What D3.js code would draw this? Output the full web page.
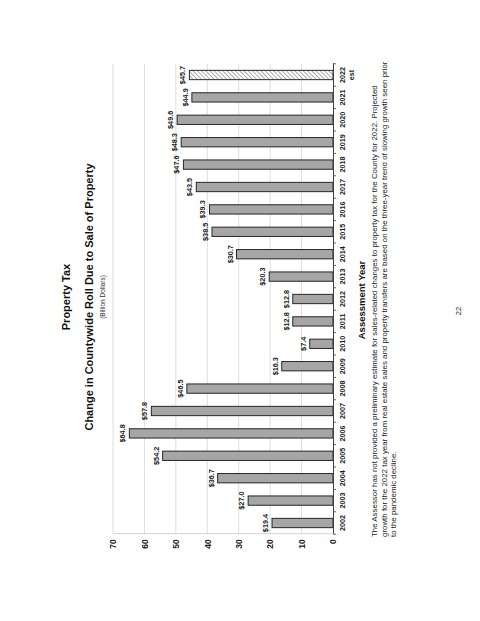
<!DOCTYPE html>
<html>
<head>
<meta charset="utf-8">
<script src="https://cdn.jsdelivr.net/npm/d3@7"></script>
<style>
  html, body { margin: 0; padding: 0; background: #fff; }
  svg { display: block; font-family: "Liberation Sans", Arial, sans-serif; }
</style>
</head>
<body>
<svg width="480" height="621"></svg>
<script>
// data
const years = ["2002", "2003", "2004", "2005", "2006", "2007", "2008", "2009", "2010", "2011",
  "2012", "2013", "2014", "2015", "2016", "2017", "2018", "2019", "2020", "2021", "2022"];
const rollChange = [19.4, 27.0, 36.7, 54.2, 64.8, 57.8, 46.5, 16.3, 7.4, 12.8,
  12.8, 20.3, 30.7, 38.5, 39.3, 43.5, 47.6, 48.3, 49.6, 44.9, 45.7];
const estYears = ["2022"];
const valueTicks = [0, 10, 20, 30, 40, 50, 60, 70];

const titleLines = ["Property Tax", "Change in Countywide Roll Due to Sale of Property"];
const subtitle = "(Billion Dollars)";
const xTitle = "Assessment Year";
const footnote = [
  "The Assessor has not provided a preliminary estimate for sales-related changes to property tax for the County for 2022. Projected",
  "growth for the 2022 tax year from real estate sales and property transfers are based on the three-year trend of slowing growth seen prior",
  "to the pandemic decline."
];
const pageNo = "22";

const svg = d3.select("svg");

// 페이지 전체가 세로로 돌려져 있음 → 가로 페이지를 그린 뒤 -90도 회전
const W = 621;
const page = svg.append("g").attr("transform", `translate(0,${W}) rotate(-90)`);

const defs = svg.append("defs");
const hatch = defs.append("pattern")
  .attr("id", "hatch")
  .attr("patternUnits", "userSpaceOnUse")
  .attr("width", 3).attr("height", 3)
  .attr("patternTransform", "rotate(45)");
hatch.append("rect").attr("width", 3).attr("height", 3).attr("fill", "#fff");
hatch.append("line")
  .attr("x1", 0).attr("y1", 0).attr("x2", 0).attr("y2", 3)
  .attr("stroke", "#555").attr("stroke-width", 1);

// scales
const x = d3.scaleBand()
  .domain(years)
  .range([86.8, 557.2])
  .paddingInner(0.585)
  .paddingOuter(0.2925);

const y = d3.scaleLinear()
  .domain([0, 70])
  .range([333, 113]);

// gridlines
page.append("g")
  .selectAll("line")
  .data(valueTicks.filter(d => d > 0))
  .join("line")
  .attr("x1", x.range()[0]).attr("x2", x.range()[1])
  .attr("y1", d => y(d)).attr("y2", d => y(d))
  .attr("stroke", "#d6d6d6").attr("stroke-width", 0.8);

// value axis
const yAxis = page.append("g")
  .attr("transform", `translate(${x.range()[0]},0)`)
  .call(d3.axisLeft(y).tickValues(valueTicks).tickSize(0).tickPadding(5));
yAxis.select(".domain").attr("stroke", "#c8c8c8").attr("stroke-width", 0.8);
yAxis.selectAll("text")
  .attr("font-family", "Liberation Sans, Arial, sans-serif")
  .attr("font-size", 8.5).attr("font-weight", "bold").attr("fill", "#1a1a1a");

// bars
page.append("g")
  .selectAll("rect")
  .data(years.map((yr, i) => ({ yr, v: rollChange[i] })))
  .join("rect")
  .attr("x", d => x(d.yr))
  .attr("width", x.bandwidth())
  .attr("y", d => y(d.v))
  .attr("height", d => y(0) - y(d.v))
  .attr("fill", d => estYears.includes(d.yr) ? "url(#hatch)" : "#a6a6a6")
  .attr("stroke", "#262626")
  .attr("stroke-width", 1);

// value labels
page.append("g")
  .selectAll("text")
  .data(years.map((yr, i) => ({ yr, v: rollChange[i] })))
  .join("text")
  .attr("x", d => x(d.yr) + x.bandwidth() / 2)
  .attr("y", d => y(d.v) - 4)
  .attr("text-anchor", "middle")
  .attr("font-size", 7.3).attr("font-weight", "bold").attr("fill", "#1a1a1a")
  .text(d => "$" + d.v.toFixed(1));

// category axis
const xAxis = page.append("g")
  .attr("transform", `translate(0,${y(0)})`)
  .call(d3.axisBottom(x).tickSize(0).tickPadding(0));
xAxis.select(".domain").attr("stroke", "#404040").attr("stroke-width", 1);
xAxis.selectAll(".tick text").remove();
xAxis.selectAll(".tick").each(function (d) {
  d3.select(this).append("text")
    .attr("text-anchor", "middle")
    .attr("font-size", 7.2).attr("font-weight", "bold").attr("fill", "#1a1a1a")
    .attr("y", 12)
    .text(d);
  if (estYears.includes(d)) {
    d3.select(this).append("text")
      .attr("text-anchor", "middle")
      .attr("font-size", 7.2).attr("font-weight", "bold").attr("fill", "#1a1a1a")
      .attr("y", 21)
      .text("est");
  }
});
// band 경계 눈금
const bounds = years.map(d => x(d) - (x.step() - x.bandwidth()) / 2).concat([x.range()[1]]);
xAxis.append("g")
  .selectAll("line")
  .data(bounds)
  .join("line")
  .attr("x1", d => d).attr("x2", d => d)
  .attr("y1", 0).attr("y2", 3)
  .attr("stroke", "#404040").attr("stroke-width", 0.8);

// titles
const cx = 324;
page.append("text")
  .attr("x", cx).attr("y", 70)
  .attr("text-anchor", "middle")
  .attr("font-size", 11).attr("font-weight", "bold").attr("fill", "#111")
  .text(titleLines[0]);
page.append("text")
  .attr("x", cx).attr("y", 92.5)
  .attr("text-anchor", "middle")
  .attr("font-size", 11).attr("font-weight", "bold").attr("fill", "#111")
  .text(titleLines[1]);
page.append("text")
  .attr("x", cx).attr("y", 104.5)
  .attr("text-anchor", "middle")
  .attr("font-size", 6.5).attr("fill", "#333")
  .text(subtitle);

page.append("text")
  .attr("x", 321).attr("y", 365)
  .attr("text-anchor", "middle")
  .attr("font-size", 9.5).attr("font-weight", "bold").attr("fill", "#111")
  .text(xTitle);

// footnote
page.append("g")
  .selectAll("text")
  .data(footnote)
  .join("text")
  .attr("x", 84)
  .attr("y", (d, i) => 377 + i * 9.6)
  .attr("font-size", 7.9).attr("fill", "#1a1a1a")
  .text(d => d);

page.append("text")
  .attr("x", 310).attr("y", 461)
  .attr("text-anchor", "middle")
  .attr("font-size", 7.5).attr("fill", "#222")
  .text(pageNo);
</script>
</body>
</html>
